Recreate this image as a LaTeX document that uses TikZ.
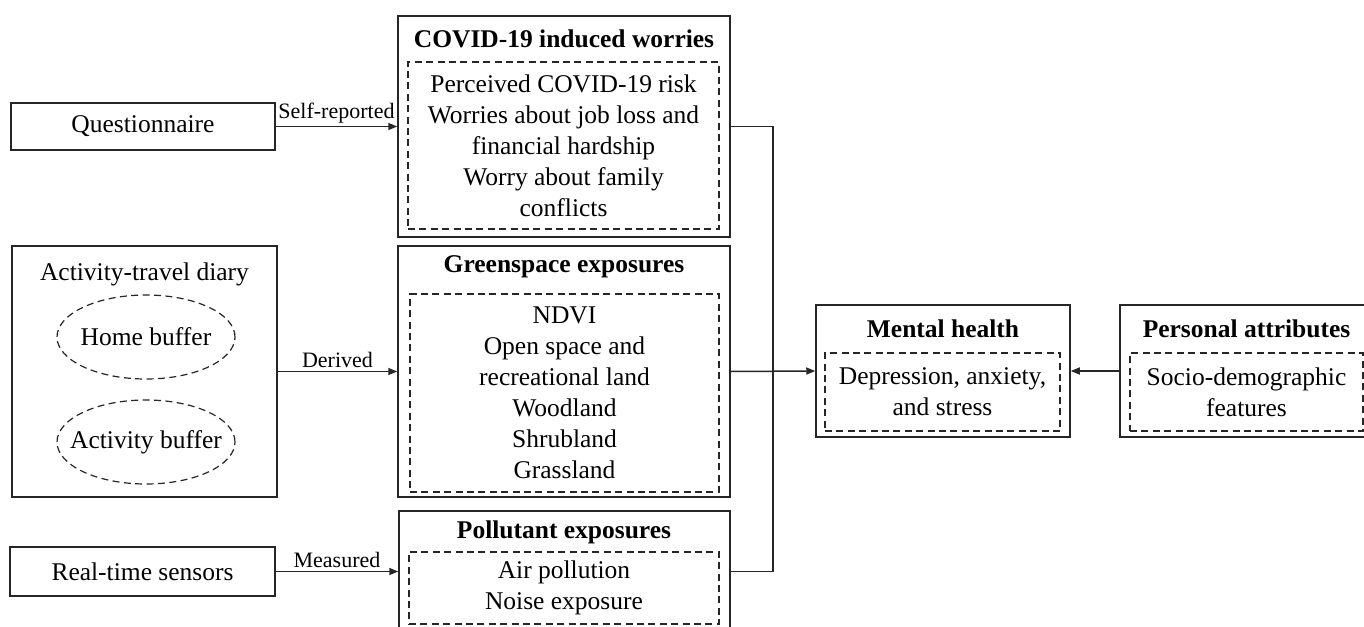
\documentclass[tikz,border=0pt]{standalone}
\usepackage{fontspec}
\setmainfont{Liberation Serif}
\usetikzlibrary{shapes.geometric,arrows.meta}
\begin{document}
\begin{tikzpicture}[x=0.5pt,y=-0.5pt,
  every node/.style={font=\fontsize{12.75pt}{15.5pt}\selectfont, inner sep=0pt, align=center},
  box/.style={draw=black!85, line width=0.75pt, rectangle},
  dbox/.style={draw=black!85, line width=0.6pt, dash pattern=on 3.5pt off 2.2pt, rectangle},
  ell/.style={draw=black!85, line width=0.6pt, dash pattern=on 3.5pt off 2.2pt, ellipse, minimum width=89pt, minimum height=42pt},
  ttl/.style={font=\fontsize{12.75pt}{15.5pt}\selectfont\bfseries},
  lbl/.style={font=\fontsize{11pt}{13pt}\selectfont, above=1.5pt},
  conn/.style={draw=black!85, line width=0.75pt},
  arr/.style={conn, -{Triangle[length=4.5pt,width=3.5pt]}}
]
\useasboundingbox (0,0) rectangle (1364,626);
\clip (0,0) rectangle (1364,626);
\fill[white] (0,0) rectangle (1364,626);

% left sources
\node[box, minimum width=132pt, minimum height=23.5pt] (q) at (143,126.5) {Questionnaire};
\node[box, minimum width=132.5pt, minimum height=125.5pt] (diary) at (144.5,371.5) {};
\node (diaryt) at (144.5,274) {Activity-travel diary};
\node[ell] (home) at (146,337) {\makebox[0pt]{Home buffer}};
\node[ell] (actb) at (146,442) {\makebox[0pt]{Activity buffer}};
\node[box, minimum width=132.5pt, minimum height=24.5pt] (sens) at (142.5,571.5) {Real-time sensors};

% COVID
\node[box, minimum width=166pt, minimum height=110.5pt] (covid) at (564,126.5) {};
\node[ttl] (covidt) at (564,39) {COVID-19 induced worries};
\node[dbox, minimum width=155.5pt, minimum height=83.5pt] (covidd) at (563.5,145.5)
  {Perceived COVID-19 risk\\Worries about job loss and\\financial hardship\\Worry about family\\conflicts};

% Greenspace
\node[box, minimum width=166pt, minimum height=125.5pt] (green) at (564,371.5) {};
\node[ttl] (greent) at (564,267) {Greenspace exposures};
\node[dbox, minimum width=154.5pt, minimum height=99pt] (greend) at (564.5,393)
  {NDVI\\Open space and\\recreational land\\Woodland\\Shrubland\\Grassland};

% Pollutant
\node[box, minimum width=165.5pt, minimum height=60.5pt] (poll) at (564.5,571.5) {};
\node[ttl] (pollt) at (564,532) {Pollutant exposures};
\node[dbox, minimum width=155pt, minimum height=36pt] (polld) at (564,588)
  {Air pollution\\Noise exposure};

% Mental health
\node[box, minimum width=127pt, minimum height=66pt] (mental) at (943,371) {};
\node[ttl] (mentalt) at (943,329) {Mental health};
\node[dbox, minimum width=117.5pt, minimum height=39pt] (mentald) at (942.5,392)
  {Depression, anxiety,\\and stress};

% Personal attributes
\node[box, minimum width=126.5pt, minimum height=66pt] (pers) at (1246.5,371) {};
\node[ttl] (perst) at (1246.5,329) {Personal attributes};
\node[dbox, minimum width=116.5pt, minimum height=39pt] (persd) at (1246.5,392)
  {Socio-demographic\\features};

% connectors
\coordinate (bus) at (773,0);
\draw[arr] (q.east) -- node[lbl] {Self-reported} (covid.west);
\draw[arr] (diary.east) -- node[lbl] {Derived} (green.west);
\draw[arr] (sens.east) -- node[lbl] {Measured} (poll.west);
\draw[conn] (covid.east) -- (covid.east -| bus) -- (poll.east -| bus) -- (poll.east);
\draw[arr] (green.east) -- (mental.west);
\draw[arr] (pers.west) -- (mental.east);
\end{tikzpicture}
\end{document}
